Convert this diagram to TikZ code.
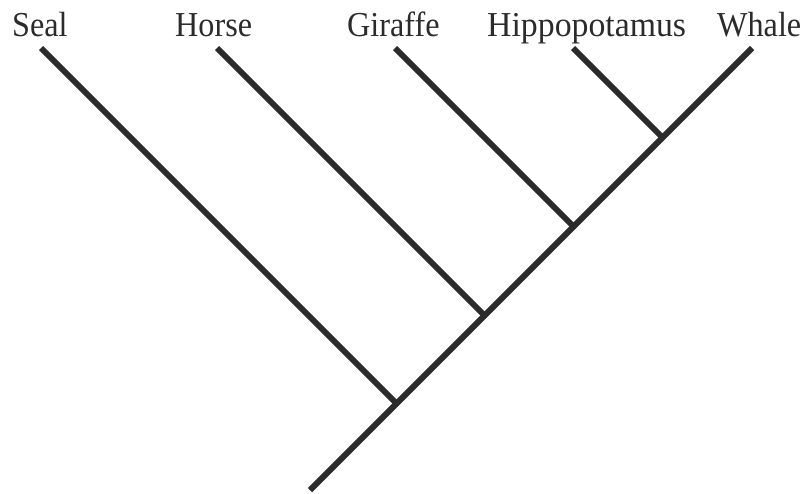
\documentclass[tikz,border=0pt]{standalone}
\usepackage{fontspec}
\setmainfont{Liberation Serif}
\definecolor{ink}{HTML}{2B2B2B}
\newcommand{\narrowtext}[2][0.92]{\scalebox{#1}[1]{#2}}
\begin{document}
\begin{tikzpicture}[x=1pt,y=-1pt,
  branch/.style={draw=ink,line width=6pt,line cap=butt},
  taxon/.style={anchor=base west,inner sep=0pt,text=ink,font=\fontsize{35}{40}\selectfont}]
\useasboundingbox (0,0) rectangle (808,493);
% labels
\node[taxon] (lseal) at (12,36) {\narrowtext{Seal}};
\node[taxon] (lhorse) at (175,36) {\narrowtext{Horse}};
\node[taxon] (lgiraffe) at (347,36) {\narrowtext{Giraffe}};
\node[taxon] (lhippo) at (487,36) {\narrowtext[0.965]{Hippopotamus}};
\node[taxon] (lwhale) at (717,36) {\narrowtext{Whale}};
% tips
\coordinate (tseal) at (41,48);
\coordinate (thorse) at (217,48);
\coordinate (tgiraffe) at (395,48);
\coordinate (thippo) at (573,48);
\coordinate (twhale) at (752,48);
% junctions
\coordinate (j1) at (396.5,403.5);
\coordinate (j2) at (484.5,315.5);
\coordinate (j3) at (573.5,226.5);
\coordinate (j4) at (662.5,137.5);
\coordinate (root) at (310,490);
% branches
\draw[branch] (root) -- (twhale);
\draw[branch] (tseal) -- (j1);
\draw[branch] (thorse) -- (j2);
\draw[branch] (tgiraffe) -- (j3);
\draw[branch] (thippo) -- (j4);
\end{tikzpicture}
\end{document}
